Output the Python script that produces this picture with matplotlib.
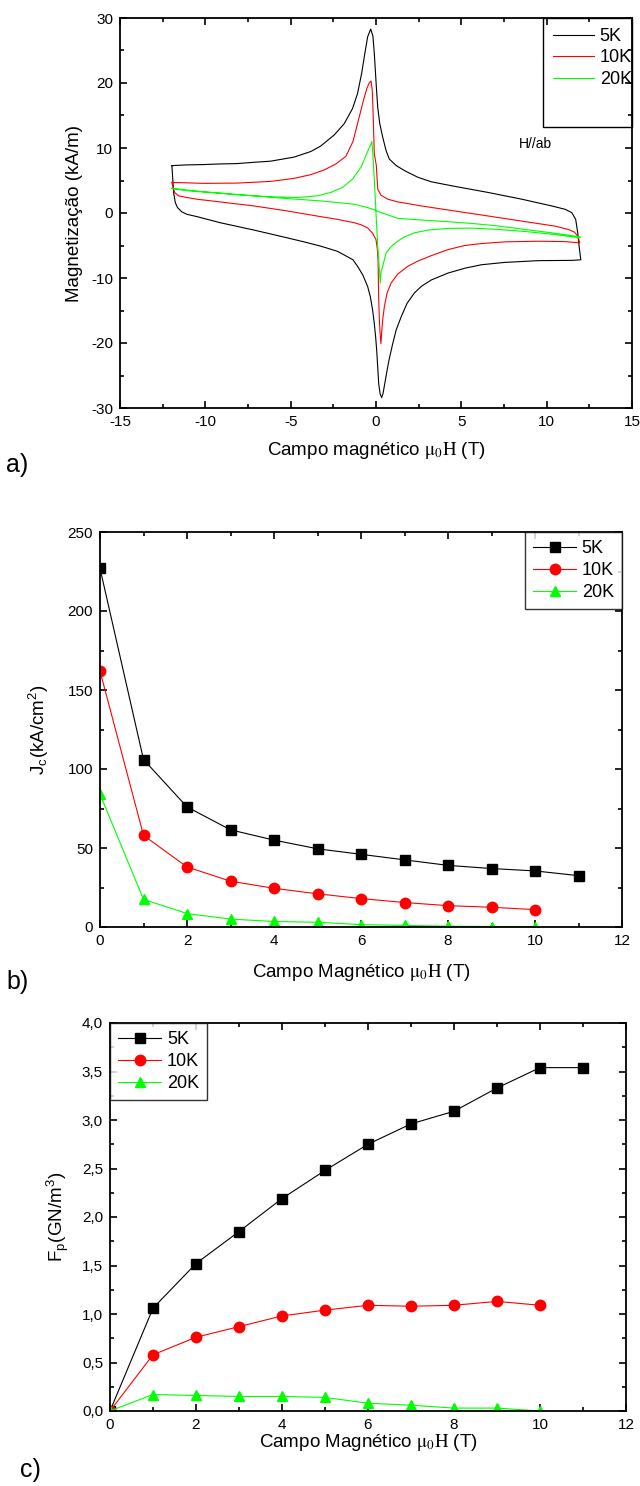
import matplotlib
matplotlib.use('Agg')
import matplotlib.pyplot as plt
from matplotlib.lines import Line2D
from matplotlib.patches import Rectangle
from matplotlib.ticker import MultipleLocator, FuncFormatter

plt.rcParams['font.family'] = ['Liberation Sans', 'DejaVu Sans']
plt.rcParams['mathtext.fontset'] = 'stix'
plt.rcParams['axes.unicode_minus'] = False

# ---- a) hysteresis loops M(H), H//ab ----
# 5K: upper branch (-12 -> +12), lower branch (+12 -> -12)
H5_up = [-11.96, -11.08, -10.1, -9.12, -8.14, -7.16, -6.18, -4.8, -3.82, -3.24, -2.45, -1.86,
         -1.37, -1.08, -0.84, -0.65, -0.49, -0.31, -0.18, -0.1, -0.04, 0.02, 0.1, 0.22, 0.39,
         0.59, 0.78, 1.18, 1.67, 2.45, 3.24, 4.61, 6.57, 8.53, 10.29, 11.08, 11.47, 11.7,
         11.82, 11.9, 12.0]
M5_up = [7.29, 7.4, 7.45, 7.55, 7.6, 7.8, 7.97, 8.6, 9.46, 10.3, 12.0, 13.75,
         16.1, 18.4, 21.5, 24.6, 27.1, 28.3, 27.2, 24.6, 22.0, 19.4, 16.3, 13.75, 11.7,
         9.6, 8.3, 7.3, 6.52, 5.5, 4.8, 4.1, 3.16, 2.13, 1.09, 0.57, 0.06, -0.98,
         -3.05, -5.1, -7.2]
H5_dn = [12.0, 11.47, 9.51, 7.55, 6.18, 5.2, 4.22, 3.24, 2.65, 2.25, 1.82, 1.47, 1.18, 0.98,
         0.78, 0.65, 0.51, 0.41, 0.33, 0.24, 0.16, 0.1, 0.04, -0.02, -0.1, -0.2, -0.33, -0.49,
         -0.78, -1.08, -1.35, -2.25, -3.24, -4.22, -5.19, -7.16, -9.12, -10.49, -11.08, -11.37,
         -11.63, -11.76, -11.86, -11.92, -11.96]
M5_dn = [-7.2, -7.29, -7.33, -7.6, -7.96, -8.5, -9.24, -10.3, -11.3, -12.3, -13.9, -16.0, -18.0, -20.1,
         -22.4, -24.2, -26.3, -27.8, -28.4, -27.8, -26.3, -23.7, -21.1, -19.1, -17.0, -14.9, -12.9, -11.3,
         -9.5, -8.2, -7.2, -5.9, -5.1, -4.44, -3.83, -2.62, -1.5, -0.56, -0.2, 0.16,
         0.83, 1.6, 3.16, 5.7, 7.29]

# 10K
H10_up = [-11.96, -10.1, -8.14, -6.18, -4.8, -3.82, -3.04, -2.35, -1.76, -1.35, -0.98, -0.73,
          -0.53, -0.39, -0.29, -0.22, -0.18, -0.14, -0.1, 0.02, 0.1, 0.29, 0.69, 1.27, 2.65,
          4.61, 6.57, 8.53, 10.49, 11.27, 11.63, 11.82, 11.94]
M10_up = [4.71, 4.56, 4.6, 4.86, 5.33, 5.9, 6.62, 7.55, 8.74, 11.0, 14.8, 17.4,
          19.2, 20.05, 20.3, 18.9, 16.3, 12.7, 9.1, 7.3, 3.68, 2.74, 2.12, 1.71, 1.09,
          0.31, -0.46, -1.24, -2.02, -2.53, -2.94, -3.56, -4.6]
H10_dn = [11.94, 11.08, 9.51, 7.55, 6.18, 5.2, 4.22, 3.24, 2.45, 1.86, 1.27, 0.88, 0.65, 0.49,
          0.39, 0.33, 0.29, 0.24, 0.2, 0.16, 0.14, 0.12, 0.08, 0.0, -0.2, -0.49, -0.88, -1.27,
          -2.25, -3.24, -5.19, -7.16, -9.12, -10.49, -11.08, -11.57, -11.8, -11.92, -11.96]
M10_dn = [-4.6, -4.4, -4.34, -4.44, -4.7, -5.0, -5.63, -6.56, -7.4, -8.2, -9.4, -10.8, -12.3, -14.4,
          -16.5, -18.5, -20.1, -18.5, -16.5, -13.4, -10.3, -7.2, -5.6, -4.1, -3.1, -2.3, -1.8, -1.5,
          -0.98, -0.56, 0.31, 1.09, 1.7, 2.12, 2.38, 2.64, 3.16, 4.2, 4.71]

# 20K
H20_up = [-11.96, -10.1, -8.14, -6.18, -4.61, -3.43, -2.65, -1.96, -1.37, -0.88, -0.59, -0.33,
          -0.24, -0.18, -0.1, 0.0, 0.1, 0.2, 0.25, 0.29, 0.39, 0.59, 0.88, 1.27, 1.67, 2.25,
          3.04, 4.22, 5.59, 7.16, 8.73, 10.29, 11.96]
M20_up = [3.78, 3.26, 2.8, 2.49, 2.38, 2.64, 3.16, 3.94, 5.23, 7.04, 8.84, 10.4,
          11.0, 8.84, 5.23, 0.0, -5.1, -8.7, -10.8, -9.25, -8.2, -6.15, -5.2, -4.33, -3.66, -3.05,
          -2.63, -2.37, -2.32, -2.53, -2.84, -3.25, -3.82]
H20_dn = [11.96, 10.29, 8.73, 7.16, 5.59, 4.22, 2.65, 1.27, 0.59, 0.2, -0.1, -0.49, -1.27,
          -2.25, -3.24, -5.19, -7.16, -9.12, -11.08, -11.96]
M20_dn = [-3.66, -3.05, -2.53, -2.0, -1.6, -1.34, -1.08, -0.82, -0.2, 0.16, 0.5, 0.83, 1.35,
          1.6, 1.86, 2.22, 2.64, 3.06, 3.42, 3.78]

# ---- b) Jc(H) ----
Hb5 = [0, 1, 2, 3, 4, 5, 6, 7, 8, 9, 10, 11]
Jc5 = [227, 106, 76, 61.5, 55, 49.5, 46, 42.5, 39, 37, 35.5, 32.5]
Hb10 = [0, 1, 2, 3, 4, 5, 6, 7, 8, 9, 10]
Jc10 = [162, 58, 38, 29, 24.5, 21, 18, 15.5, 13.5, 12.5, 11]
Hb20 = [0, 1, 2, 3, 4, 5, 6, 7, 8, 9, 10]
Jc20 = [84, 17.5, 8.5, 5, 3.5, 3, 1.5, 1, 0.5, 0.3, 0.3]

# ---- c) Fp(H) ----
Hc5 = [0, 1, 2, 3, 4, 5, 6, 7, 8, 9, 10, 11]
Fp5 = [0, 1.06, 1.52, 1.85, 2.19, 2.48, 2.75, 2.96, 3.09, 3.33, 3.54, 3.54]
Hc10 = [0, 1, 2, 3, 4, 5, 6, 7, 8, 9, 10]
Fp10 = [0, 0.58, 0.76, 0.87, 0.98, 1.04, 1.09, 1.08, 1.09, 1.13, 1.09]
Hc20 = [0, 1, 2, 3, 4, 5, 6, 7, 8, 9, 10]
Fp20 = [0, 0.17, 0.16, 0.15, 0.15, 0.14, 0.08, 0.06, 0.03, 0.03, 0.0]

labels = ['5K', '10K', '20K']
colors = ['black', '#ff0000', '#00ff00']

W, H = 640, 1486
fig = plt.figure(figsize=(6.4, 14.86), dpi=100)


def box(l, t, r, b):
    return [l / W, 1 - b / H, (r - l) / W, (b - t) / H]


def style(ax):
    ax.tick_params(which='both', direction='in', top=True, right=True, labelsize=11)
    ax.tick_params(which='major', length=5, width=1.2, pad=5)
    ax.tick_params(which='minor', length=3, width=1.2)
    for s in ax.spines.values():
        s.set_linewidth(1.3)


def legend(ax, loc):
    leg = ax.legend(loc=loc, fontsize=13, frameon=True, fancybox=False, edgecolor='black',
                    borderaxespad=0, handlelength=2.4, handletextpad=0.3,
                    labelspacing=0.28, borderpad=0.45)
    leg.get_frame().set_linewidth(1)
    return leg


xl = r'Campo magnético $\mathrm{\mu}_0\mathrm{H}$ (T)'
xl2 = r'Campo Magnético $\mathrm{\mu}_0\mathrm{H}$ (T)'

# a)
ax1 = fig.add_axes(box(120, 18, 632, 408))
ax1.plot(H5_up + H5_dn, M5_up + M5_dn, color=colors[0], lw=0.8, label=labels[0])
ax1.plot(H10_up + H10_dn, M10_up + M10_dn, color=colors[1], lw=0.8, label=labels[1])
ax1.plot(H20_up + H20_dn, M20_up + M20_dn, color=colors[2], lw=0.8, label=labels[2])
ax1.set_xlim(-15, 15)
ax1.set_ylim(-30, 30)
ax1.xaxis.set_major_locator(MultipleLocator(5))
ax1.xaxis.set_minor_locator(MultipleLocator(2.5))
ax1.yaxis.set_major_locator(MultipleLocator(10))
ax1.yaxis.set_minor_locator(MultipleLocator(5))
style(ax1)
ax1.set_xlabel(xl, fontsize=13.5, labelpad=8)
ax1.set_ylabel('Magnetização (kA/m)', fontsize=13.5, labelpad=6)
ax1.text(8.35, 10.65, 'H//ab', fontsize=10, va='center')
# legend box of panel a is taller than its three entries
ax1.add_patch(Rectangle((0.826, 0.7205), 0.174, 0.2795, transform=ax1.transAxes,
                        fill=False, edgecolor='black', lw=1, zorder=5, clip_on=False))
ax1.legend(loc='upper left', bbox_to_anchor=(0.826, 1.0), fontsize=13, frameon=False,
           borderaxespad=0, handlelength=2.3, handletextpad=0.3, labelspacing=0.25,
           borderpad=0.55)
fig.text(6 / W, 1 - 465 / H, 'a)', fontsize=18, va='center')

# b)
ax2 = fig.add_axes(box(100, 532, 622, 927))
ax2.plot(Hb5, Jc5, color=colors[0], marker='s', ms=6.5, lw=0.8, label=labels[0])
ax2.plot(Hb10, Jc10, color=colors[1], marker='o', ms=7.5, lw=0.8, label=labels[1])
ax2.plot(Hb20, Jc20, color=colors[2], marker='^', ms=7.5, lw=0.8, label=labels[2])
ax2.set_xlim(0, 12)
ax2.set_ylim(0, 250)
ax2.xaxis.set_major_locator(MultipleLocator(2))
ax2.xaxis.set_minor_locator(MultipleLocator(1))
ax2.yaxis.set_major_locator(MultipleLocator(50))
ax2.yaxis.set_minor_locator(MultipleLocator(25))
style(ax2)
ax2.set_xlabel(xl2, fontsize=13.5, labelpad=10)
ax2.set_ylabel(r'J$_\mathregular{c}$(kA/cm$^\mathregular{2}$)', fontsize=13.5, labelpad=12)
legend(ax2, 'upper right')
fig.text(6 / W, 1 - 982 / H, 'b)', fontsize=18, va='center')

# c)
ax3 = fig.add_axes(box(110, 1023, 626, 1411))
ax3.plot(Hc5, Fp5, color=colors[0], marker='s', ms=6.5, lw=0.8, label=labels[0])
ax3.plot(Hc10, Fp10, color=colors[1], marker='o', ms=7.5, lw=0.8, label=labels[1])
ax3.plot(Hc20, Fp20, color=colors[2], marker='^', ms=7.5, lw=0.8, label=labels[2])
ax3.set_xlim(0, 12)
ax3.set_ylim(0, 4)
ax3.xaxis.set_major_locator(MultipleLocator(2))
ax3.xaxis.set_minor_locator(MultipleLocator(1))
ax3.yaxis.set_major_locator(MultipleLocator(0.5))
ax3.yaxis.set_minor_locator(MultipleLocator(0.25))
ax3.yaxis.set_major_formatter(FuncFormatter(lambda v, p: f'{v:.1f}'.replace('.', ',')))
style(ax3)
ax3.set_xlabel(xl2, fontsize=13.5, labelpad=0)
ax3.set_ylabel(r'F$_\mathregular{p}$(GN/m$^\mathregular{3}$)', fontsize=13.5, labelpad=8)
legend(ax3, 'upper left')
fig.text(20 / W, 1 - 1470 / H, 'c)', fontsize=18, va='center')

fig.savefig('out.png', dpi=100)
